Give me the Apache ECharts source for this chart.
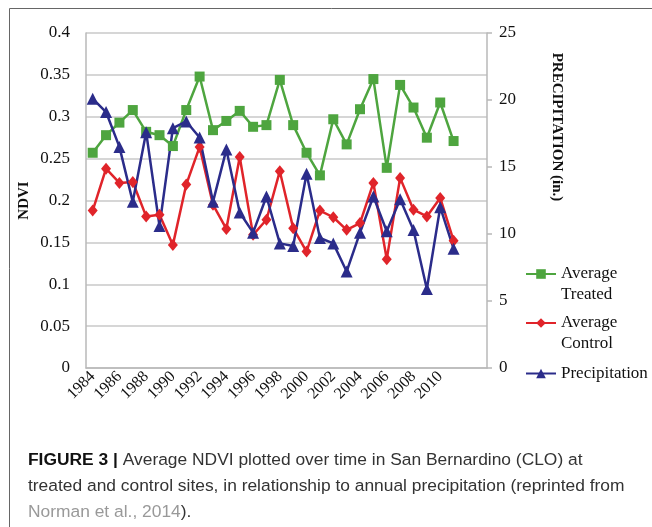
<!DOCTYPE html>
<html>
<head>
<meta charset="utf-8">
<script src="https://cdn.jsdelivr.net/npm/echarts@6/dist/echarts.min.js"></script>
<style>
html,body{margin:0;padding:0;background:#fff;}
#chart{width:652px;height:527px;}
</style>
</head>
<body>
<div id="chart"></div>
<script>
var years = ['1984','1985','1986','1987','1988','1989','1990','1991','1992','1993','1994','1995','1996','1997','1998','1999','2000','2001','2002','2003','2004','2005','2006','2007','2008','2009','2010','2011','',''];
var treated = [0.257,0.278,0.293,0.308,0.282,0.278,0.265,0.308,0.348,0.284,0.295,0.307,0.288,0.290,0.344,0.290,0.257,0.230,0.297,0.267,0.309,0.345,0.239,0.338,0.311,0.275,0.317,0.271];
var control = [0.188,0.238,0.221,0.222,0.181,0.183,0.147,0.219,0.264,0.195,0.166,0.252,0.159,0.177,0.235,0.167,0.139,0.188,0.180,0.165,0.173,0.221,0.130,0.227,0.189,0.181,0.203,0.152];
var precip = [20.1,19.1,16.5,12.4,17.6,10.6,17.9,18.4,17.2,12.4,16.3,11.6,10.1,12.8,9.3,9.1,14.5,9.7,9.3,7.2,10.1,12.8,10.2,12.6,10.3,5.9,12.0,8.9];
var seriesNames = ['Average Treated','Average Control','Precipitation'];
var colors = ['#4ea53f','#e0242a','#2b2c8a'];

var chart = echarts.init(document.getElementById('chart'), null, {renderer:'canvas'});
var serif = '"Liberation Serif","Times New Roman",serif';
var sans = '"Liberation Sans",Arial,sans-serif';
var axisGray = '#b8b8b8';

function legendFor(i, top){
  return {
    show:true, orient:'vertical', left:525, top: top, padding:0,
    itemWidth:30, itemHeight:12, itemGap:0,
    data:[{name: seriesNames[i]}],
    formatter: function(n){ return n === 'Precipitation' ? n : '\n' + n.replace(' ', '\n'); },
    textStyle: {fontFamily: serif, fontSize: 17, color:'#111', lineHeight: 21},
    selectedMode:false
  };
}

chart.setOption({
  animation:false,
  color: colors,
  grid:{left:86, right:165, top:33, bottom:159, containLabel:false},
  legend:[ legendFor(0, 242.5), legendFor(1, 291.5), legendFor(2, 363) ],
  xAxis:{
    type:'category', data: years, boundaryGap:true,
    axisLine:{show:true, lineStyle:{color:axisGray, width:1.5}},
    axisTick:{show:false},
    axisLabel:{interval:1, rotate:45, fontFamily:serif, fontSize:16, color:'#111', margin:6}
  },
  yAxis:[{
    type:'value', min:0, max:0.4, interval:0.05,
    name:'NDVI', nameLocation:'middle', nameRotate:90, nameGap:54, nameMoveOverlap:false,
    nameTextStyle:{fontFamily:serif, fontSize:15, fontWeight:'bold', color:'#111'},
    axisLine:{show:true, lineStyle:{color:axisGray, width:1.5}},
    axisTick:{show:false},
    axisLabel:{fontFamily:serif, fontSize:17, color:'#111', margin:16},
    splitLine:{show:true, lineStyle:{color:'#c8c8c8', width:1.5}}
  },{
    type:'value', min:0, max:25, interval:5, position:'right',
    axisLine:{show:true, lineStyle:{color:axisGray, width:1.5}},
    axisTick:{show:true, inside:false, length:5, lineStyle:{color:axisGray, width:1.5}},
    axisLabel:{fontFamily:serif, fontSize:17, color:'#111', margin:12},
    splitLine:{show:false}
  }],
  series:[{
    name: seriesNames[0], type:'line', data: treated, yAxisIndex:0, showAllSymbol:true,
    symbol:'rect', symbolSize:10, lineStyle:{width:2.5, color:colors[0]}, itemStyle:{color:colors[0]}
  },{
    name: seriesNames[1], type:'line', data: control, yAxisIndex:0, showAllSymbol:true,
    symbol:'diamond', symbolSize:[10,12], lineStyle:{width:2.5, color:colors[1]}, itemStyle:{color:colors[1]}
  },{
    name: seriesNames[2], type:'line', data: precip, yAxisIndex:1, showAllSymbol:true,
    symbol:'triangle', symbolSize:12, lineStyle:{width:2.5, color:colors[2]}, itemStyle:{color:colors[2]}
  }],
  graphic:[
    {type:'rect', shape:{x:9.5, y:8.5, width:700, height:600}, style:{fill:'none', stroke:'#666', lineWidth:1}, silent:true},
    {type:'text', x:557, y:127, rotation:-Math.PI/2, style:{text:'PRECIPITATION (in.)', fontFamily:serif, fontSize:15, fontWeight:'bold', fill:'#111', align:'center', verticalAlign:'middle'}},
    {type:'text', x:28, y:447, style:{
      text:'{b|FIGURE 3 |} Average NDVI plotted over time in San Bernardino (CLO) at\ntreated and control sites, in relationship to annual precipitation (reprinted from\n{g|Norman et al., 2014}).',
      fontFamily:sans, fontSize:17.4, lineHeight:26, fill:'#333',
      rich:{
        b:{fontWeight:'bold', fontFamily:sans, fontSize:17.4, fill:'#111'},
        g:{fill:'#999', fontFamily:sans, fontSize:17.4}
      }
    }}
  ]
});
</script>
</body>
</html>
